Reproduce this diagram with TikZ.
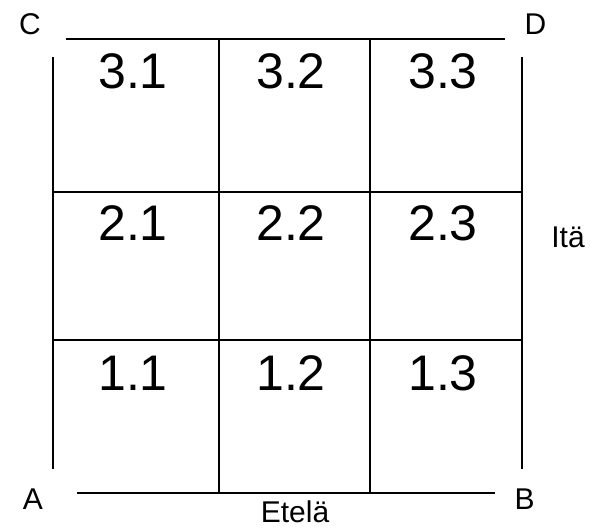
\documentclass[tikz,border=0pt]{standalone}
\usepackage{fontspec}
\setmainfont{Liberation Sans}
\begin{document}
\begin{tikzpicture}[x=1pt,y=-1pt,
  gridline/.style={line width=2pt,black},
  numlabel/.style={font=\fontsize{50}{54}\selectfont,inner sep=0pt,anchor=base},
  letterlabel/.style={font=\fontsize{30}{33}\selectfont,inner sep=0pt,anchor=base}]
\useasboundingbox[fill=white] (0,0) rectangle (592,528);
% outer sides
\draw[gridline] (52.5,57) -- (52.5,469);
\draw[gridline] (521.5,57) -- (521.5,469);
\draw[gridline] (66,39) -- (505,39);
\draw[gridline] (77,492.5) -- (495,492.5);
% inner lines
\draw[gridline] (219,39) -- (219,492.5);
\draw[gridline] (370,39) -- (370,492.5);
\draw[gridline] (52.5,191.5) -- (521.5,191.5);
\draw[gridline] (52.5,340) -- (521.5,340);
% cell numbers
\node[numlabel] (n31) at (133,88.5) {3.1};
\node[numlabel] (n32) at (291,88.5) {3.2};
\node[numlabel] (n33) at (443,88.5) {3.3};
\node[numlabel] (n21) at (133,240.5) {2.1};
\node[numlabel] (n22) at (291,240.5) {2.2};
\node[numlabel] (n23) at (443,240.5) {2.3};
\node[numlabel] (n11) at (133,390) {1.1};
\node[numlabel] (n12) at (291,390) {1.2};
\node[numlabel] (n13) at (443,390) {1.3};
% corner and side labels
\node[letterlabel] (lc) at (30,34) {C};
\node[letterlabel] (ld) at (535.5,34) {D};
\node[letterlabel] (la) at (33,509) {A};
\node[letterlabel] (lb) at (524.5,509) {B};
\node[letterlabel] (south) at (295,522) {Etelä};
\node[letterlabel] (east) at (568,247.5) {Itä};
\end{tikzpicture}
\end{document}
